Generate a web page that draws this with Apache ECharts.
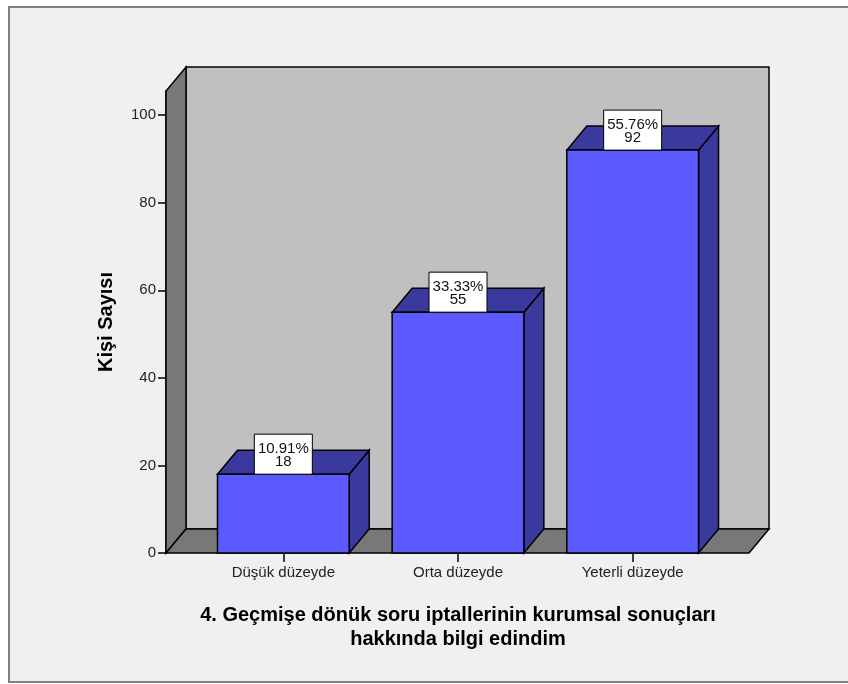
<!DOCTYPE html>
<html><head><meta charset="utf-8">
<script src="https://cdn.jsdelivr.net/npm/echarts@6/dist/echarts.min.js"></script>
<style>html,body{margin:0;padding:0;background:#fff}#c{width:848px;height:684px}</style>
</head><body><div id="c"></div>
<script>
// ---- data ----
const categories = ['Düşük düzeyde', 'Orta düzeyde', 'Yeterli düzeyde'];
const counts = [18, 55, 92];
const percents = [10.91, 33.33, 55.76];
const yTicks = [0, 20, 40, 60, 80, 100];
const yMax = 105.5;
const xTitle = '4. Geçmişe dönük soru iptallerinin kurumsal sonuçları\nhakkında bilgi edindim';
const yTitle = 'Kişi Sayısı';

// ---- style ----
const DX = 20, DY = -24;
const FONT = '"Liberation Sans", Arial, sans-serif';
const EDGE = { stroke: '#000', lineWidth: 1.5 };

const chart = echarts.init(document.getElementById('c'), null, { renderer: 'canvas' });

function wallsItem(params, api) {
  const cs = params.coordSys;
  const fl = cs.x - 30, fr = cs.x + cs.width + 29, fb = cs.y + cs.height, ft = cs.y;
  return {
    type: 'group', children: [
      { type: 'rect', shape: { x: fl + DX, y: ft + DY, width: fr - fl, height: fb - ft }, style: Object.assign({ fill: '#C0C0C0' }, EDGE) },
      { type: 'polygon', shape: { points: [[fl, fb], [fl, ft], [fl + DX, ft + DY], [fl + DX, fb + DY]] }, style: Object.assign({ fill: '#787878' }, EDGE) },
      { type: 'polygon', shape: { points: [[fl, fb], [fr, fb], [fr + DX, fb + DY], [fl + DX, fb + DY]] }, style: Object.assign({ fill: '#787878' }, EDGE) }
    ]
  };
}

function barItem(params, api) {
  const idx = api.value(0), v = api.value(1), pct = api.value(2);
  const top = api.coord([idx, v]), base = api.coord([idx, 0]);
  const bw = api.size([1, 0])[0] * 0.754;
  const cx = top[0];
  const L = cx - bw / 2, R = cx + bw / 2, T = top[1], B = base[1];
  return {
    type: 'group', children: [
      { type: 'polygon', shape: { points: [[R, T], [R + DX, T + DY], [R + DX, B + DY], [R, B]] }, style: Object.assign({ fill: '#3A3A9E' }, EDGE) },
      { type: 'polygon', shape: { points: [[L, T], [L + DX, T + DY], [R + DX, T + DY], [R, T]] }, style: Object.assign({ fill: '#3A3A9E' }, EDGE) },
      { type: 'rect', shape: { x: L, y: T, width: bw, height: B - T }, style: Object.assign({ fill: '#5A5AFF' }, EDGE) },
      { type: 'rect', shape: { x: cx - 29, y: T - 40, width: 58, height: 40 }, style: { fill: '#fff', stroke: '#000', lineWidth: 1 } },
      { type: 'text', style: { x: cx, y: T - 25, text: pct.toFixed(2) + '%', textAlign: 'center', textVerticalAlign: 'middle', font: '15px ' + FONT, fill: '#111' } },
      { type: 'text', style: { x: cx, y: T - 12, text: String(v), textAlign: 'center', textVerticalAlign: 'middle', font: '15px ' + FONT, fill: '#111' } }
    ]
  };
}

chart.setOption({
  animation: false,
  backgroundColor: '#fff',
  graphic: [
    { type: 'rect', z: -100, silent: true, shape: { x: 9, y: 7, width: 860, height: 675 }, style: { fill: '#F0F0F0', stroke: '#808080', lineWidth: 2 } },
    { type: 'text', z: 10, style: { x: 458, y: 603, text: xTitle, textAlign: 'center', textVerticalAlign: 'top', font: 'bold 20px ' + FONT, lineHeight: 24, fill: '#000' } }
  ],
  grid: { left: 196, right: 128, top: 91, bottom: 131 },
  xAxis: {
    type: 'category', data: categories,
    axisLine: { show: false },
    axisTick: { show: true, alignWithLabel: true, length: 9, lineStyle: { color: '#000', width: 1.5 } },
    axisLabel: { fontSize: 15, fontFamily: FONT, color: '#222', margin: 12 }
  },
  yAxis: {
    type: 'value', min: 0, max: yMax, interval: 20, offset: 30,
    name: yTitle, nameLocation: 'middle', nameGap: 50,
    nameTextStyle: { fontSize: 20, fontWeight: 'bold', fontFamily: FONT, color: '#000' },
    axisLine: { show: true, lineStyle: { color: '#000', width: 1.5 } },
    axisTick: { show: true, length: 8, customValues: yTicks, lineStyle: { color: '#000', width: 1.5 } },
    axisLabel: { fontSize: 15, fontFamily: FONT, color: '#222', margin: 10, customValues: yTicks },
    splitLine: { show: false }
  },
  series: [
    { type: 'custom', z: 1, silent: true, renderItem: wallsItem, data: [[0, 0]], encode: { x: 0, y: 1 } },
    { type: 'custom', z: 2, renderItem: barItem, data: categories.map((c, i) => [i, counts[i], percents[i]]), encode: { x: 0, y: 1 } }
  ]
});
</script></body></html>
